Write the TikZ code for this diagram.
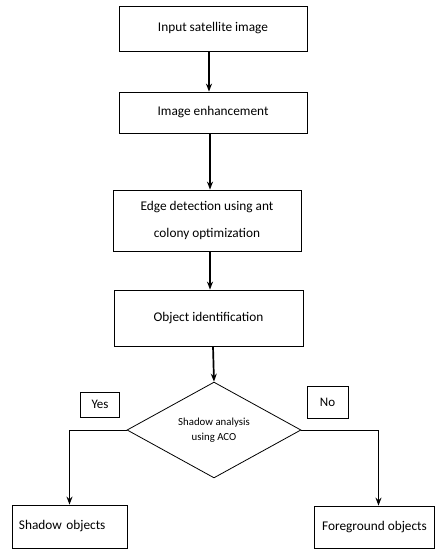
\documentclass[tikz,border=0pt]{standalone}
\usepackage{fontspec}
\setmainfont{Carlito}
\usetikzlibrary{shapes.geometric,arrows.meta}
\begin{document}
\begin{tikzpicture}[x=1pt,y=-1pt,
  stepbox/.style={draw,line width=0.8pt,inner sep=0pt,font=\fontsize{13.3}{27}\selectfont,align=center},
  lbl/.style={draw,line width=0.8pt,inner sep=0pt,font=\fontsize{13}{14}\selectfont},
  arr/.style={line width=1.7pt,-{Stealth[length=8pt,width=6pt]}},
  lin/.style={line width=0.9pt}]
\useasboundingbox (0,0) rectangle (435,550);
\node[stepbox,minimum width=188pt,minimum height=45pt] (b1) at (213,28.5) {Input satellite image};
\node[stepbox,minimum width=188pt,minimum height=41pt] (b2) at (213,112.5) {Image enhancement};
\node[stepbox,minimum width=188pt,minimum height=61pt] (b3) at (207,220.5) {Edge detection using ant\\colony optimization};
\node[stepbox,minimum width=189pt,minimum height=56pt] (b4) at (208.5,318) {Object identification};
\node[draw,line width=0.8pt,diamond,inner sep=0pt,minimum width=174pt,minimum height=94pt,align=center,font=\fontsize{10.8}{15}\selectfont] (d) at (214,430) {Shadow analysis\\using ACO};
\node[lbl,minimum width=39pt,minimum height=25pt] (yes) at (100,404.5) {Yes};
\node[lbl,minimum width=41pt,minimum height=32pt] (no) at (327.5,402) {No};
\node[stepbox,minimum width=115pt,minimum height=43pt,text width=101pt,align=left] (sh) at (69.5,526.5) {Shadow objects};
\node[stepbox,minimum width=120pt,minimum height=42pt] (fg) at (374.5,527) {Foreground objects};
\draw[arr] ([xshift=-4pt]b1.south) -- ([xshift=-4pt]b2.north);
\draw[arr] ([xshift=-3pt]b2.south) -- ([xshift=3pt]b3.north);
\draw[arr] ([xshift=3pt]b3.south) -- ([xshift=1.5pt]b4.north);
\draw[arr] ([xshift=4.5pt]b4.south) -- (d.north);
\draw[lin] (d.west) -- (sh.north |- d.west);
\draw[arr] (sh.north |- d.west) -- (sh.north);
\draw[lin] (d.east) -- ([xshift=4pt]fg.north |- d.east);
\draw[arr] ([xshift=4pt]fg.north |- d.east) -- ([xshift=4pt]fg.north);
\end{tikzpicture}
\end{document}
